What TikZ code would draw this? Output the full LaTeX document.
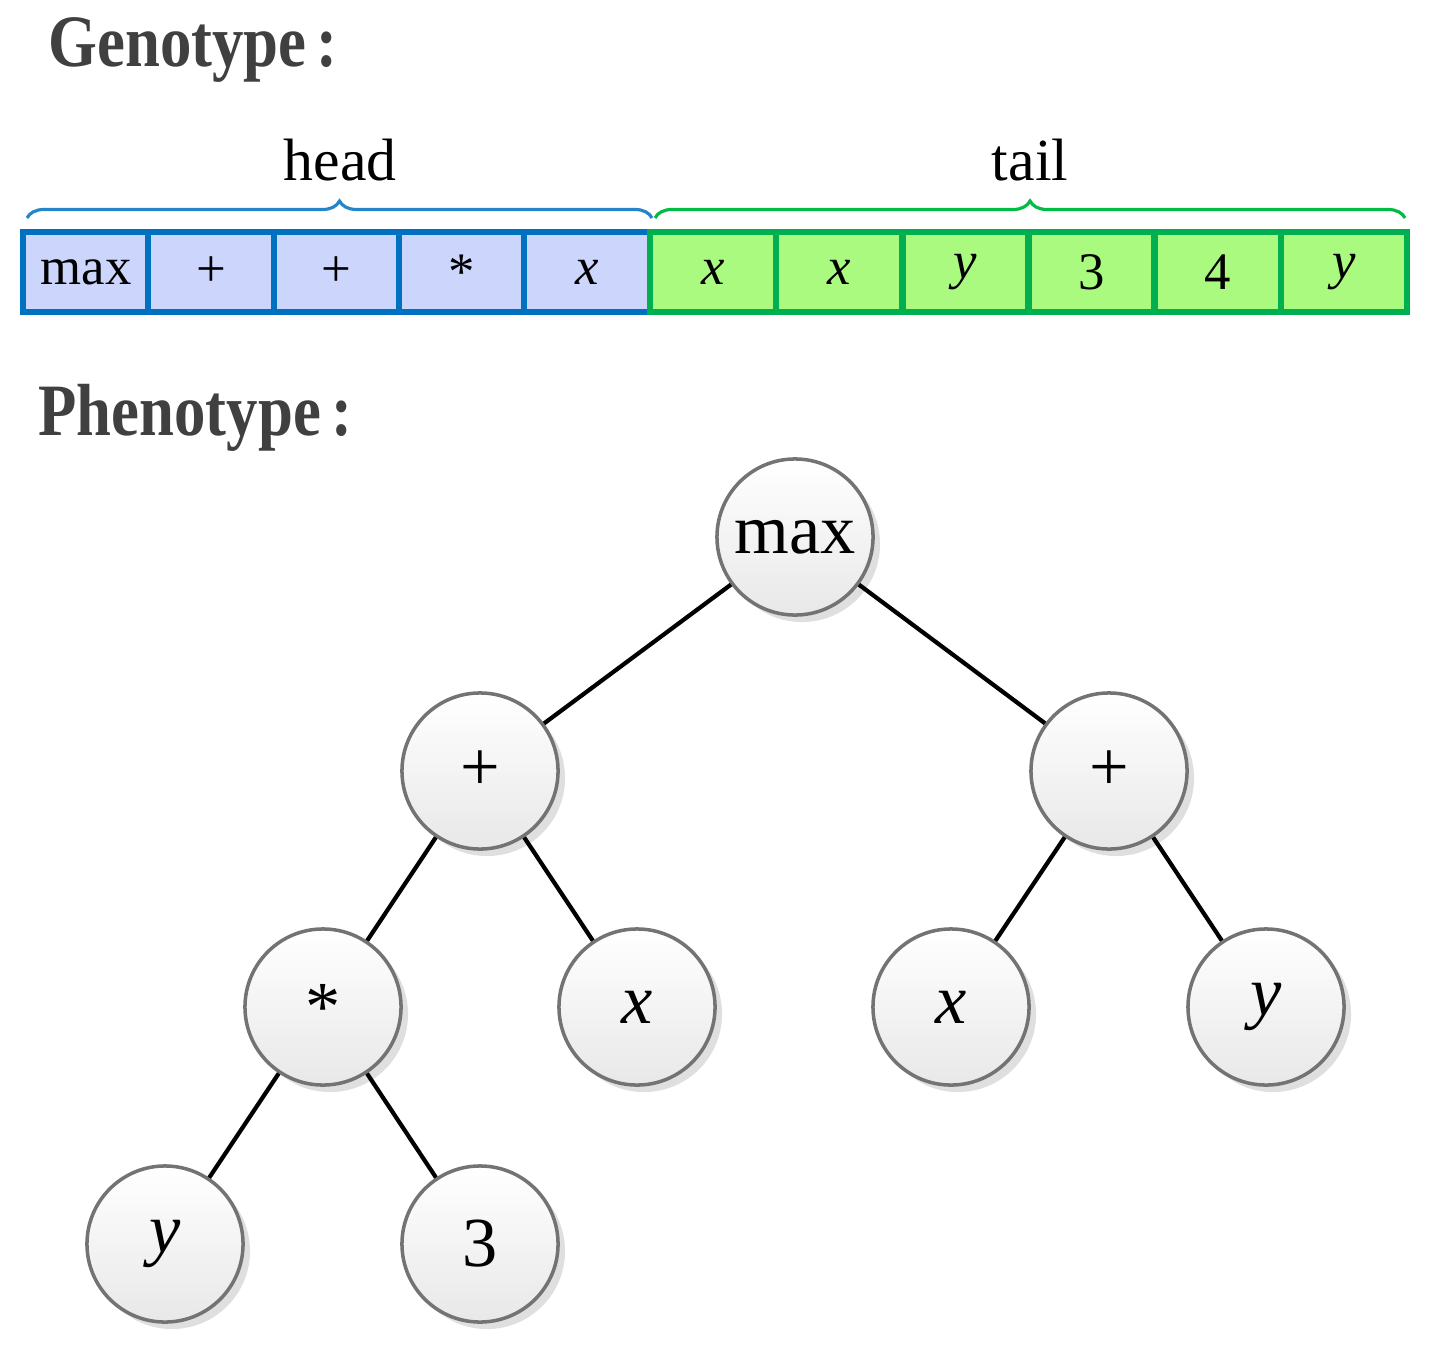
\documentclass[tikz,border=0pt]{standalone}
\usepackage{fontspec}
\setmainfont{Liberation Serif}
\usetikzlibrary{decorations.pathreplacing,shadows}
\definecolor{hb}{HTML}{0070C0}
\definecolor{hf}{HTML}{CCD5FB}
\definecolor{tb}{HTML}{00B050}
\definecolor{tf}{HTML}{A9FA7F}
\definecolor{ttl}{HTML}{404040}
\begin{document}
\begin{tikzpicture}[x=0.01cm,y=-0.01cm,
 title/.style={anchor=west,text=ttl,font=\fontsize{21}{24}\selectfont\bfseries},
 cell/.style={draw,line width=1.7pt,minimum width=1.256cm,minimum height=0.8cm,inner sep=0pt,font=\fontsize{15}{17}\selectfont},
 hc/.style={cell,draw=hb,fill=hf},
 tc/.style={cell,draw=tb,fill=tf},
 br/.style={decorate,decoration={brace,amplitude=0.17cm},line width=0.9pt},
 lab/.style={font=\fontsize{17}{19}\selectfont},
 nd/.style={circle,draw=black!55,line width=1pt,minimum size=1.56cm,inner sep=0pt,
   top color=white,bottom color=black!9,drop shadow={shadow xshift=0.07cm,shadow yshift=-0.07cm,opacity=0.25},
   font=\fontsize{20}{22}\selectfont},
 ed/.style={line width=1.2pt}]
\useasboundingbox (0,0) rectangle (1437,1352);
\node[title] (g) at (36,50) {\scalebox{0.85}[1]{Genotype\,:}};
\node[title] (p) at (26,418) {\scalebox{0.85}[1]{Phenotype\,:}};
\foreach \i/\t in {0/max,1/+,2/+,3/*,4/\textit{x}}{
  \node[hc] (h\i) at ({86+125.2*\i},272) {\t};}
\foreach \i/\t in {0/\textit{x},1/\textit{x},2/\textit{y},3/3,4/4,5/\textit{y}}{
  \node[tc] (t\i) at ({713+126.2*\i},272) {\t};}
\draw[br,draw=hb!85] (27,218) -- (652,218);
\draw[br,draw=tb!85!green] (655,218) -- (1405,218);
\node[lab] (hl) at (340,160) {head};
\node[lab] (tl) at (1030,160) {tail};
\node[nd] (m) at (795,537) {max};
\node[nd] (pl) at (480,771) {+};
\node[nd] (pr) at (1109,771) {+};
\node[nd] (st) at (323,1007) {*};
\node[nd] (xl) at (637,1007) {\textit{x}};
\node[nd] (xr) at (951,1007) {\textit{x}};
\node[nd] (yr) at (1266,1007) {\textit{y}};
\node[nd] (yl) at (165,1244) {\textit{y}};
\node[nd] (th) at (480,1244) {3};
\draw[ed] (m)--(pl) (m)--(pr) (pl)--(st) (pl)--(xl) (pr)--(xr) (pr)--(yr) (st)--(yl) (st)--(th);
\end{tikzpicture}
\end{document}
